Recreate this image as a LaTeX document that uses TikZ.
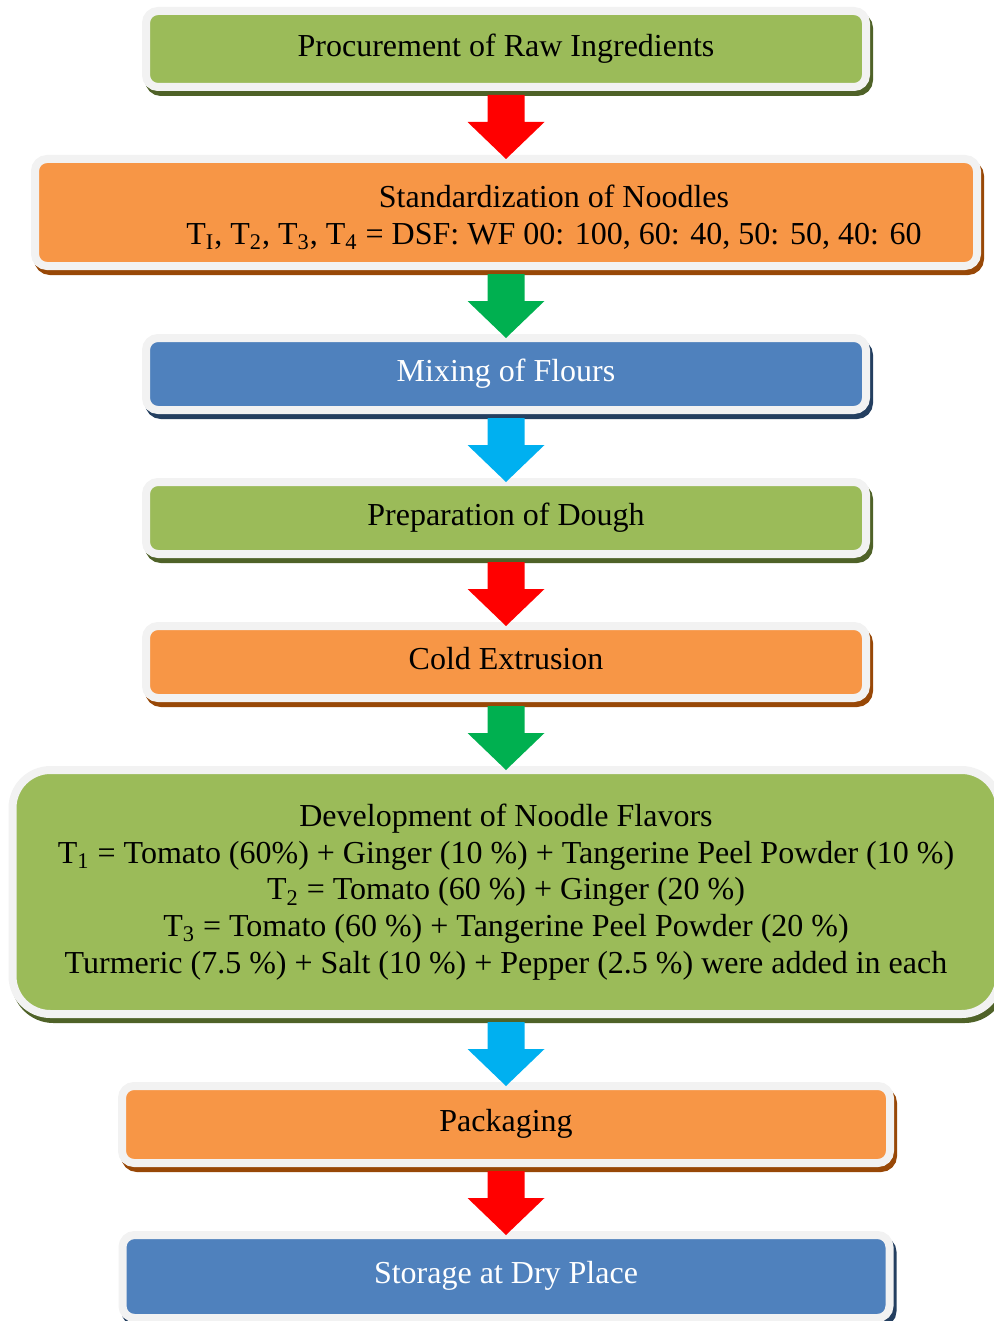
\documentclass[tikz,border=0pt]{standalone}
\usepackage{fontspec}
\setmainfont{Liberation Serif}
\usetikzlibrary{calc,positioning}
\definecolor{rim}{HTML}{F2F2F2}
\definecolor{boxgreen}{HTML}{9BBB59}
\definecolor{boxorange}{HTML}{F79646}
\definecolor{boxblue}{HTML}{4F81BD}
\definecolor{shgreen}{HTML}{4F6228}
\definecolor{shorange}{HTML}{984807}
\definecolor{shblue}{HTML}{243F60}
\definecolor{arrred}{HTML}{FF0000}
\definecolor{arrgreen}{HTML}{00B050}
\definecolor{arrcyan}{HTML}{00B0F0}

\begin{document}
\begin{tikzpicture}[
node distance=32pt,
txt/.style={align=center, font=\fontsize{16}{18.3}\selectfont},
box/.style={txt, draw=rim, line width=4pt, rounded corners=6pt, inner sep=0pt},
one/.style={text height=0.95em, text depth=0.22em},
gbox/.style={box, fill=boxgreen, preaction={draw=shgreen, line width=4pt, transform canvas={xshift=1.5pt,yshift=-2.5pt}}},
obox/.style={box, fill=boxorange, preaction={draw=shorange, line width=4pt, transform canvas={xshift=1.5pt,yshift=-2.5pt}}},
bbox/.style={box, fill=boxblue, text=white, preaction={draw=shblue, line width=4pt, transform canvas={xshift=1.5pt,yshift=-2.5pt}}},
flow/.style={fill=#1, to path={($(\tikztostart.south)+(-9.25pt,-2pt)$) -- ($(\tikztostart.south)+(9.25pt,-2pt)$)
  -- ($(\tikztotarget.north)+(9.25pt,16.5pt)$) -- ($(\tikztotarget.north)+(19.25pt,16.5pt)$)
  -- ($(\tikztotarget.north)+(0,-2pt)$) -- ($(\tikztotarget.north)+(-19.25pt,16.5pt)$)
  -- ($(\tikztotarget.north)+(-9.25pt,16.5pt)$) -- cycle}}
]
\useasboundingbox (0,0) rectangle (497pt,-660.5pt);
\node[gbox, one, minimum width=360pt, minimum height=38pt] (proc) at (253pt,-24.5pt) {Procurement of Raw Ingredients};
\node[obox, minimum width=471pt, minimum height=53.5pt, below=of proc] (std) {};
\node[txt] (stdtxt) at ([xshift=24pt,yshift=-2.5pt]std.center) {Standardization of Noodles\\
  T\textsubscript{I}, T\textsubscript{2}, T\textsubscript{3}, T\textsubscript{4} = DSF: WF 00: 100, 60: 40, 50: 50, 40: 60};
\node[bbox, one, minimum width=360pt, minimum height=36pt, below=of std] (mix) {Mixing of Flours};
\node[gbox, one, minimum width=360pt, minimum height=36pt, below=of mix] (dough) {Preparation of Dough};
\node[obox, one, minimum width=360pt, minimum height=36pt, below=of dough] (extr) {Cold Extrusion};
\node[gbox, rounded corners=19pt, minimum width=493.5pt, minimum height=122pt, below=of extr] (flav) {Development of Noodle Flavors\\
  T\textsubscript{1} = Tomato (60\%) + Ginger (10 \%) + Tangerine Peel Powder (10 \%)\\
  T\textsubscript{2} = Tomato (60 \%) + Ginger (20 \%)\\
  T\textsubscript{3} = Tomato (60 \%) + Tangerine Peel Powder (20 \%)\\
  Turmeric (7.5 \%) + Salt (10 \%) + Pepper (2.5 \%) were added in each};
\node[obox, one, minimum width=384pt, minimum height=38.5pt, below=of flav] (pack) {Packaging};
\node[bbox, one, minimum width=383.5pt, minimum height=41.5pt, below=of pack] (store) {Storage at Dry Place};
% block arrows between steps
\path[flow=arrred] (proc) to (std);
\path[flow=arrgreen] (std) to (mix);
\path[flow=arrcyan] (mix) to (dough);
\path[flow=arrred] (dough) to (extr);
\path[flow=arrgreen] (extr) to (flav);
\path[flow=arrcyan] (flav) to (pack);
\path[flow=arrred] (pack) to (store);
\end{tikzpicture}
\end{document}
